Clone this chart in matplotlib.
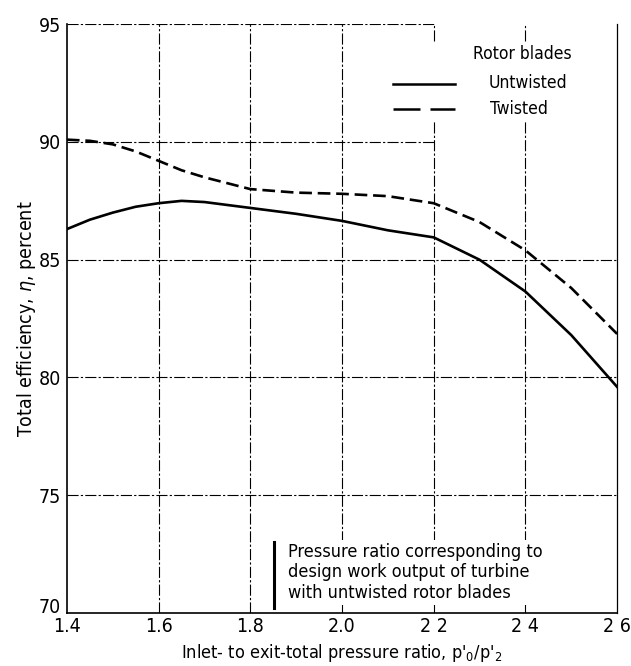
import matplotlib
matplotlib.use('Agg')
import matplotlib.pyplot as plt

plt.rcParams['font.family'] = ['DejaVu Sans']
plt.rcParams['font.stretch'] = 'condensed'

# pressure ratio and total efficiency
ratio = [1.40, 1.45, 1.50, 1.55, 1.60, 1.65, 1.70, 1.80, 1.90, 2.00, 2.10, 2.20, 2.30, 2.40, 2.50, 2.60]
untwisted = [86.3, 86.7, 87.0, 87.25, 87.4, 87.5, 87.45, 87.2, 86.95, 86.65, 86.25, 85.95, 85.0, 83.65, 81.8, 79.6]
twisted = [90.1, 90.05, 89.9, 89.6, 89.2, 88.8, 88.5, 88.0, 87.85, 87.8, 87.7, 87.4, 86.6, 85.4, 83.8, 81.85]

xticks = [1.4, 1.6, 1.8, 2.0, 2.2, 2.4, 2.6]
xticklabels = ['1.4', '1.6', '1.8', '2.0', '2 2', '2 4', '2 6']
yticks = [70, 75, 80, 85, 90, 95]

fig = plt.figure(figsize=(6.31, 6.66), dpi=100)
ax = fig.add_axes([0.106, 0.0796, 0.872, 0.884])

# grid drawn by hand, the legend corner is left open as in the original
gstyle = dict(color='black', lw=0.8, linestyle=(0, (10, 2, 2, 2)), zorder=1)
for y in [75, 80, 85]:
    ax.plot([1.4, 2.6], [y, y], **gstyle)
for y in [90, 95]:
    ax.plot([1.4, 2.2], [y, y], **gstyle)
for x in [1.6, 1.8, 2.0]:
    ax.plot([x, x], [70, 95], **gstyle)
for x in [2.2, 2.4]:
    ax.plot([x, x], [70, 90.9], **gstyle)
    ax.plot([x, x], [94.3, 95], **gstyle)

ax.plot(ratio, untwisted, color='black', lw=1.9, zorder=3)
ax.plot(ratio, twisted, color='black', lw=1.9, dashes=(4.8, 2.2), zorder=3)

ax.set_xlim(1.4, 2.6)
ax.set_ylim(70, 95)
ax.set_xticks(xticks)
ax.set_xticklabels(xticklabels)
ax.set_yticks(yticks)
ax.tick_params(length=0, labelsize=14)
ax.tick_params(axis='x', pad=3)
ax.tick_params(axis='y', pad=4)
ax.get_yticklabels()[0].set_verticalalignment('baseline')
ax.spines['top'].set_visible(False)
ax.spines['left'].set_linewidth(1.2)
ax.spines['bottom'].set_linewidth(1.2)
ax.spines['right'].set_linewidth(0.9)

ax.set_xlabel("Inlet- to exit-total pressure ratio, p$'_0$/p$'_2$", fontsize=13, labelpad=4)
ax.set_ylabel('Total efficiency, $\\eta$, percent', fontsize=14, labelpad=1)

# legend drawn by hand like the original
ax.text(2.393, 93.75, 'Rotor blades', fontsize=12.5, ha='center', va='center')
ax.plot([2.112, 2.247], [92.47, 92.47], color='black', lw=1.8)
ax.plot([2.112, 2.247], [91.4, 91.4], color='black', lw=1.8, dashes=(10.8, 4))
ax.text(2.319, 92.5, 'Untwisted', fontsize=12.5, va='center')
ax.text(2.323, 91.4, 'Twisted', fontsize=12.5, va='center')

# design point marker and note
ax.plot([1.852, 1.852], [70.2, 73.0], color='black', lw=2.2)
ax.text(1.883, 71.72, 'Pressure ratio corresponding to\ndesign work output of turbine\nwith untwisted rotor blades',
        fontsize=13, va='center', linespacing=1.2,
        bbox=dict(facecolor='white', edgecolor='none', pad=2))

fig.savefig('out.png', dpi=100)
